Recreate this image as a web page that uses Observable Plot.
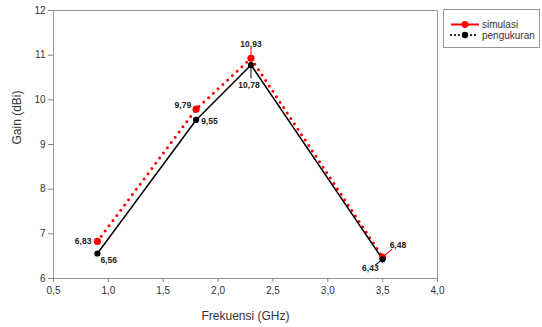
<!DOCTYPE html>
<html>
<head>
<meta charset="utf-8">
<script src="https://cdn.jsdelivr.net/npm/d3@7"></script>
<script src="https://cdn.jsdelivr.net/npm/@observablehq/plot@0.6"></script>
<style>
  html, body { margin: 0; padding: 0; background: #fff; }
  #wrap { position: relative; width: 542px; height: 327px; font-family: "Liberation Sans", Arial, sans-serif; }
  #legend { position: absolute; left: 443px; top: 9px; width: 97px; height: 39px; border: 1px solid #999; box-sizing: border-box; background: #fff; }
</style>
</head>
<body>
<div id="wrap"></div>
<script>
const freq = [0.9, 1.8, 2.3, 3.5];
const simulasi = [6.83, 9.79, 10.93, 6.48];
const pengukuran = [6.56, 9.55, 10.78, 6.43];
const simLabels = ["6,83", "9,79", "10,93", "6,48"];
const ukurLabels = ["6,56", "9,55", "10,78", "6,43"];
const xTicks = [0.5, 1.0, 1.5, 2.0, 2.5, 3.0, 3.5, 4.0];
const yTicks = [6, 7, 8, 9, 10, 11, 12];
const seriesNames = ["simulasi", "pengukuran"];
const xTitle = "Frekuensi (GHz)";
const yTitle = "Gain (dBi)";

const sim = freq.map((f, i) => ({x: f, y: simulasi[i], label: simLabels[i]}));
const uk = freq.map((f, i) => ({x: f, y: pengukuran[i], label: ukurLabels[i]}));

const fmt = d => d3.format(".1f")(d).replace(".", ",");
const lineShape = {draw(ctx, l) { ctx.moveTo(0, -3); ctx.lineTo(0, -l); }};
const lblFont = {fontSize: 8.5, fontWeight: "bold", fill: "#222", fontFamily: "Liberation Sans, Arial, sans-serif"};

const chart = Plot.plot({
  width: 542, height: 327,
  marginLeft: 53, marginRight: 105, marginTop: 10, marginBottom: 49,
  style: {fontFamily: "Liberation Sans, Arial, sans-serif", fontSize: "10px", color: "#333"},
  x: {domain: [0.5, 4.0]},
  y: {domain: [6, 12]},
  marks: [
    Plot.frame({stroke: "#999"}),
    Plot.axisX({ticks: xTicks, tickFormat: fmt, tickSize: 4, stroke: "#888", fill: "#333", fontSize: 10, label: null, tickPadding: 4}),
    Plot.axisY({ticks: yTicks, tickFormat: d => String(d), tickSize: 5, stroke: "#888", fill: "#333", fontSize: 10, label: null, tickPadding: 3}),
    Plot.text([xTitle], {text: d => d, frameAnchor: "bottom", dy: 41, fontSize: 12, fill: "#333"}),
    Plot.text([yTitle], {text: d => d, frameAnchor: "left", dx: -36, rotate: -90, fontSize: 12, fill: "#333"}),
    Plot.line(sim, {x: "x", y: "y", stroke: "#ff0000", strokeWidth: 3, strokeDasharray: "0,6.5", strokeLinecap: "round"}),
    Plot.line(uk, {x: "x", y: "y", stroke: "#000", strokeWidth: 1.5}),
    Plot.dot(sim, {x: "x", y: "y", r: 3.6, fill: "#ff0000"}),
    Plot.dot(uk, {x: "x", y: "y", r: 3.1, fill: "#000"}),
    // leader lines
    Plot.vector([sim[2]], {x: "x", y: "y", length: 10, rotate: 0, anchor: "start", stroke: "#ff0000", strokeWidth: 1, shape: lineShape}),
    Plot.vector([uk[2]], {x: "x", y: "y", length: 13, rotate: 180, anchor: "start", stroke: "#000", strokeWidth: 1, shape: lineShape}),
    Plot.vector([sim[3]], {x: "x", y: "y", length: 12, rotate: 50, anchor: "start", stroke: "#ff0000", strokeWidth: 1, shape: lineShape}),
    Plot.vector([uk[3]], {x: "x", y: "y", length: 9, rotate: -128, anchor: "start", stroke: "#000", strokeWidth: 1, shape: lineShape}),
    // labels
    Plot.text([sim[0]], {x: "x", y: "y", text: "label", textAnchor: "end", dx: -6, ...lblFont}),
    Plot.text([sim[1]], {x: "x", y: "y", text: "label", textAnchor: "end", dx: -5, dy: -4, ...lblFont}),
    Plot.text([sim[2]], {x: "x", y: "y", text: "label", dx: 0, dy: -14, ...lblFont}),
    Plot.text([sim[3]], {x: "x", y: "y", text: "label", textAnchor: "start", dx: 7, dy: -12, ...lblFont}),
    Plot.text([uk[0]], {x: "x", y: "y", text: "label", textAnchor: "start", dx: 3, dy: 7, ...lblFont}),
    Plot.text([uk[1]], {x: "x", y: "y", text: "label", textAnchor: "start", dx: 5, dy: 1, ...lblFont}),
    Plot.text([uk[2]], {x: "x", y: "y", text: "label", dx: -2, dy: 20, ...lblFont}),
    Plot.text([uk[3]], {x: "x", y: "y", text: "label", textAnchor: "end", dx: -4, dy: 9, ...lblFont})
  ]
});

const wrap = document.getElementById("wrap");
wrap.appendChild(chart);

const legend = document.createElement("div");
legend.id = "legend";
legend.innerHTML = `
<svg width="97" height="39" style="position:absolute;left:0;top:0;font-family:'Liberation Sans',Arial,sans-serif">
  <line x1="7" x2="35" y1="14.5" y2="14.5" stroke="#ff0000" stroke-width="2"/>
  <circle cx="21" cy="14.5" r="3.4" fill="#ff0000"/>
  <text x="38" y="18" font-size="10" fill="#333">${seriesNames[0]}</text>
  <line x1="7" x2="35" y1="25" y2="25" stroke="#000" stroke-width="2.2" stroke-dasharray="0,4" stroke-linecap="round"/>
  <circle cx="21" cy="25" r="3.2" fill="#000"/>
  <text x="38" y="28.5" font-size="10" fill="#333">${seriesNames[1]}</text>
</svg>`;
wrap.appendChild(legend);
</script>
</body>
</html>
